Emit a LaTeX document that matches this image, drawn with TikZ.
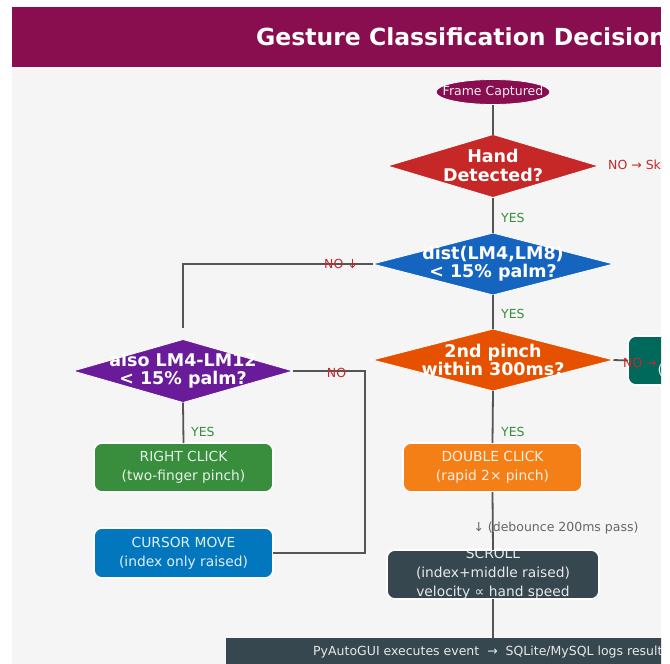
\documentclass[tikz,border=0pt]{standalone}
\usepackage{fontspec}
\setmainfont{DejaVu Sans}
\usetikzlibrary{shapes.geometric}
\definecolor{maroon}{HTML}{880E4F}
\definecolor{bggrey}{HTML}{F5F5F5}
\definecolor{dred}{HTML}{C62828}
\definecolor{dblue}{HTML}{1565C0}
\definecolor{dorange}{HTML}{E65100}
\definecolor{dpurple}{HTML}{6A1B9A}
\definecolor{bgreen}{HTML}{388E3C}
\definecolor{bblue}{HTML}{0277BD}
\definecolor{borange}{HTML}{F57F17}
\definecolor{bslate}{HTML}{37474F}
\definecolor{bteal}{HTML}{00695C}
\definecolor{lineg}{HTML}{555555}
\definecolor{yesg}{HTML}{388E3C}
\definecolor{debg}{HTML}{666666}
\tikzset{
  dia/.style={diamond, draw=white, line width=0.8pt, inner sep=0pt, outer sep=0pt},
  diatext/.style={text=white, font=\bfseries\fontsize{17.5}{18.3}\selectfont, align=center, inner sep=0pt},
  actbox/.style={rectangle, rounded corners=8pt, draw=white, line width=1.6pt, minimum width=179pt, minimum height=49pt, inner sep=0pt, outer sep=0pt},
  boxtext/.style={text=white, text opacity=0.88, font=\fontsize{13.8}{19}\selectfont, align=center, inner sep=0pt},
  conn/.style={draw=lineg, line width=1.8pt},
  nolab/.style={text=dred, font=\fontsize{12.5}{15}\selectfont, inner sep=0pt},
  yeslab/.style={text=yesg, font=\fontsize{12.5}{15}\selectfont, inner sep=0pt, anchor=west},
}
\begin{document}
\begin{tikzpicture}[x=1pt,y=-1pt]
\useasboundingbox (0,0) rectangle (670,664);
\fill[white] (0,0) rectangle (670,664);
\clip (12,7) rectangle (661,664);
\fill[bggrey] (12,67) rectangle (661,664);
\fill[maroon] (12,7) rectangle (661,67);
\node[anchor=base west, text=white, font=\bfseries\fontsize{23.5}{28}\selectfont, inner sep=0pt] (title) at (256,45) {Gesture Classification Decision};

% shapes
\node[ellipse, fill=maroon, draw=white, line width=0.8pt, minimum width=114pt, minimum height=25pt, inner sep=0pt, outer sep=0pt] (frame) at (493,92) {};
\node[dia, fill=dred, minimum width=211pt, minimum height=63pt] (hand) at (493,166) {};
\node[dia, fill=dblue, minimum width=241pt, minimum height=62pt] (dist) at (493,264) {};
\node[dia, fill=dorange, minimum width=241pt, minimum height=62pt] (pinch) at (493,360) {};
\node[dia, fill=dpurple, minimum width=220pt, minimum height=63pt] (also) at (183,371) {};
\node[actbox, fill=bgreen] (rclick) at (183.5,467.5) {};
\node[actbox, fill=bblue, minimum height=50pt] (cursor) at (183.5,553) {};
\node[actbox, fill=borange] (dclick) at (492.5,467.5) {};
\node[actbox, fill=bslate, minimum width=212pt] (scroll) at (493,574.5) {};
\node[actbox, fill=bteal] (teal) at (717.5,360.5) {};
\node[rectangle, fill=bslate, minimum width=560pt, minimum height=34pt, inner sep=0pt, outer sep=0pt, anchor=north west] (bar) at (226,638) {};

% connectors
\coordinate (alsoin) at (183,328);
\coordinate (nobend) at (365,371);
\draw[conn] (frame.south) -- (hand.north);
\draw[conn] (hand.south) -- (dist.north);
\draw[conn] (dist.south) -- (pinch.north);
\draw[conn] (pinch.south) -- (dclick.north);
\draw[conn] (dist.west) -| (alsoin);
\draw[conn] (also.south) -- (rclick.north);
\draw[conn] (also.east) -- (nobend) |- (cursor.east);
\draw[conn] (dclick.south) -- (scroll.north);
\draw[conn] (scroll.south) -- (scroll.south |- bar.north);
\draw[conn] (pinch.east) -- (teal.west);

% texts
\node[text=white, text opacity=0.92, font=\fontsize{12.5}{15}\selectfont, inner sep=0pt] (frameT) at (frame.center) {Frame Captured};
\node[diatext] (handT) at (493,165.5) {Hand\\Detected?};
\node[diatext] (distT) at (493,263.5) {dist(LM4,LM8)\\< 15\% palm?};
\node[diatext] (pinchT) at (493,360) {2nd pinch\\within 300ms?};
\node[diatext] (alsoT) at (183,371) {also LM4-LM12\\< 15\% palm?};
\node[boxtext] (rclickT) at (rclick.center) {RIGHT CLICK\\(two-finger pinch)};
\node[boxtext] (cursorT) at (cursor.center) {CURSOR MOVE\\(index only raised)};
\node[boxtext] (dclickT) at (dclick.center) {DOUBLE CLICK\\(rapid 2× pinch)};
\node[boxtext] (scrollT) at (493,574) {SCROLL\\(index+middle raised)\\velocity ∝ hand speed};
\node[boxtext, anchor=west] (tealT) at (657.5,361) {LEFT CLICK\\(single pinch)};
\node[text=white, text opacity=0.88, font=\fontsize{12.5}{15}\selectfont, inner sep=0pt, anchor=west] (barT) at (313,652) {PyAutoGUI executes event \ → \ SQLite/MySQL logs result};

\node[nolab, anchor=west] (noskip) at (608,166) {NO → Skip};
\node[nolab] (nodown) at (341,264) {NO ↓};
\node[nolab] (noalso) at (336.5,373) {NO};
\node[nolab, anchor=west] (nopinch) at (623,363) {NO →};
\node[yeslab] (yes1) at (501,218) {YES};
\node[yeslab] (yes2) at (501,314) {YES};
\node[yeslab] (yes3) at (501,432) {YES};
\node[yeslab] (yes4) at (191,432) {YES};
\node[text=debg, font=\fontsize{12.5}{15}\selectfont, inner sep=0pt] (deb) at (556,528) {↓ (debounce 200ms pass)};
\end{tikzpicture}
\end{document}
